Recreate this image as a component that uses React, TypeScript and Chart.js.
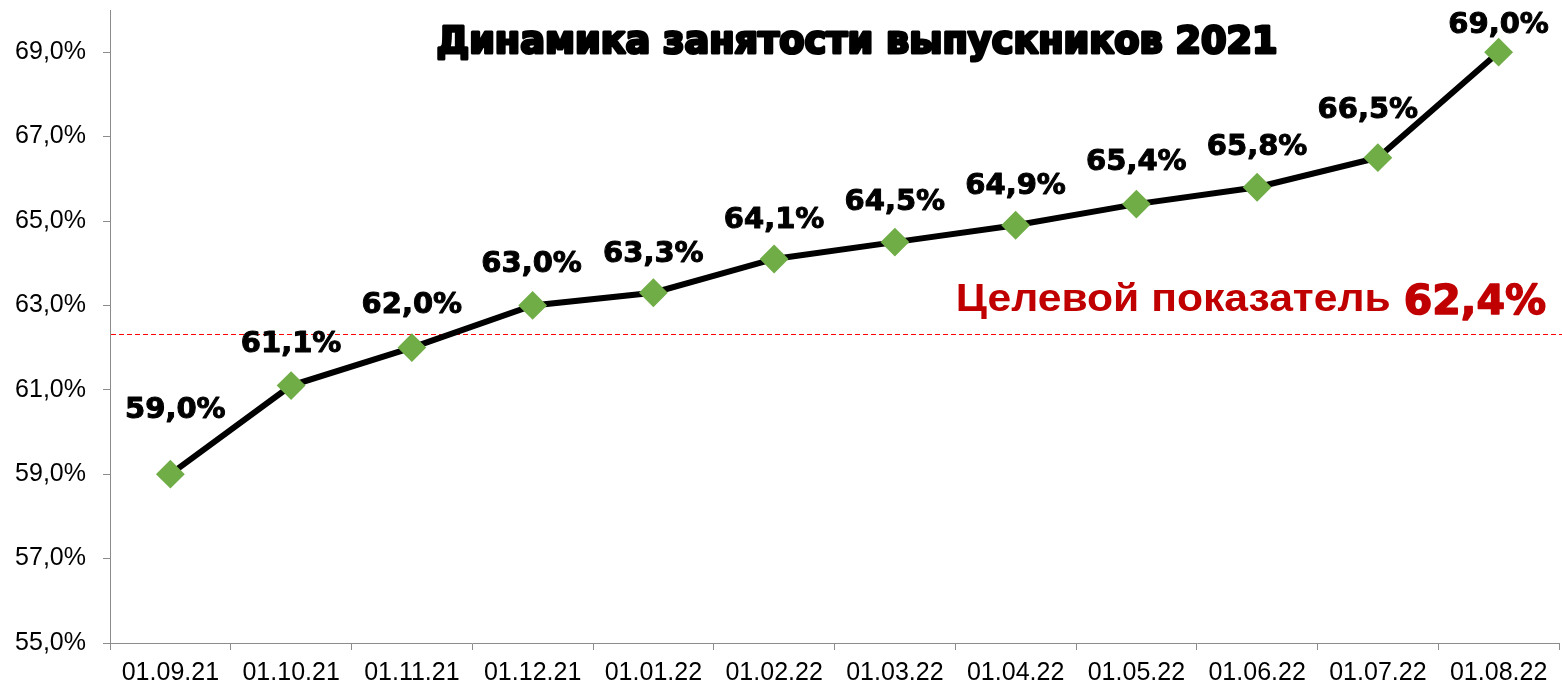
import React, { useEffect, useRef } from 'react';
import { Chart, registerables } from 'chart.js';

Chart.register(...registerables);

// ---- data ----
const categories = [
  '01.09.21', '01.10.21', '01.11.21', '01.12.21', '01.01.22', '01.02.22',
  '01.03.22', '01.04.22', '01.05.22', '01.06.22', '01.07.22', '01.08.22',
];
const employmentValues = [59.0, 61.1, 62.0, 63.0, 63.3, 64.1, 64.5, 64.9, 65.4, 65.8, 66.5, 69.0];
const yTickValues = [55, 57, 59, 61, 63, 65, 67, 69];
const yMin = 55;
const yMax = 70;
const targetLineValue = 62.32;
const targetLabelValue = 62.4;
const titleText = 'Динамика занятости выпускников 2021';
const targetText = 'Целевой показатель';

const fmt = (v: number) => v.toFixed(1).replace('.', ',') + '%';

// label placement (pixels relative to each point)
const labelDx = [5, 0, 0, -1, 0, 0, 0, 0, 0, 0, -10, 0];
const labelDy = [-56, -34, -35, -33, -31, -31, -32, -31, -34, -32, -40, -19];

const overlayPlugin = {
  id: 'overlay',
  beforeDatasetsDraw(chart: any) {
    const { ctx, chartArea, scales } = chart;
    const y = Math.round(scales.y.getPixelForValue(targetLineValue)) + 0.5;
    ctx.save();
    ctx.strokeStyle = '#FF0000';
    ctx.lineWidth = 1;
    ctx.setLineDash([5, 3]);
    ctx.beginPath();
    ctx.moveTo(chartArea.left + 1, y);
    ctx.lineTo(chart.width, y);
    ctx.stroke();
    ctx.restore();
  },
  afterDatasetsDraw(chart: any) {
    const { ctx, chartArea, scales } = chart;
    ctx.save();
    // data labels
    const meta = chart.getDatasetMeta(0);
    ctx.font = 'bold 29px "DejaVu Sans"';
    ctx.textAlign = 'center';
    ctx.textBaseline = 'alphabetic';
    ctx.fillStyle = '#000000';
    ctx.strokeStyle = '#000000';
    ctx.lineWidth = 1;
    ctx.lineJoin = 'round';
    meta.data.forEach((pt: any, i: number) => {
      const s = fmt(employmentValues[i]);
      const x = pt.x + labelDx[i];
      const y = pt.y + labelDy[i];
      ctx.strokeText(s, x, y);
      ctx.fillText(s, x, y);
    });

    // title
    ctx.font = 'bold 38px "DejaVu Sans"';
    const tw = ctx.measureText(titleText).width;
    const targetW = 841;
    const cx = 857;
    ctx.save();
    ctx.translate(cx, 53);
    ctx.scale(targetW / tw, 1);
    ctx.textAlign = 'center';
    ctx.lineWidth = 3;
    ctx.strokeStyle = '#000';
    ctx.lineJoin = 'round';
    ctx.strokeText(titleText, 0, 0);
    ctx.fillText(titleText, 0, 0);
    ctx.restore();

    // target label
    const ty = scales.y.getPixelForValue(targetLineValue) - 20;
    const rightX = chartArea.right - 13;
    ctx.fillStyle = '#C00000';
    ctx.strokeStyle = '#C00000';
    ctx.textAlign = 'right';
    ctx.font = 'bold 41px "DejaVu Sans"';
    const valStr = fmt(targetLabelValue);
    ctx.lineWidth = 1.5;
    ctx.strokeText(valStr, rightX, ty);
    ctx.fillText(valStr, rightX, ty);
    const vw = ctx.measureText(valStr).width;
    ctx.font = 'bold 38px "Liberation Sans"';
    const lw = ctx.measureText(targetText).width;
    const wantW = 435;
    ctx.save();
    ctx.translate(rightX - vw - 13, ty - 3);
    ctx.scale(wantW / lw, 1);
    ctx.fillText(targetText, 0, 0);
    ctx.restore();
    ctx.restore();
  },
};

export default function App() {
  const canvasRef = useRef<HTMLCanvasElement | null>(null);

  useEffect(() => {
    const canvas = canvasRef.current;
    if (!canvas) return;
    const chart = new Chart(canvas, {
      type: 'line',
      data: {
        labels: categories,
        datasets: [
          {
            data: employmentValues,
            borderColor: '#000000',
            borderWidth: 6,
            pointStyle: 'rectRot',
            pointRadius: 13,
            pointHoverRadius: 13,
            pointBackgroundColor: '#70AD47',
            pointBorderColor: '#70AD47',
            pointBorderWidth: 2,
            tension: 0,
            fill: false,
            clip: false,
          },
        ],
      },
      options: {
        animation: false,
        responsive: true,
        maintainAspectRatio: false,
        layout: { autoPadding: false, padding: { top: 10, right: 3, left: 0, bottom: 0 } },
        plugins: {
          legend: { display: false },
          title: { display: false },
          tooltip: { enabled: false },
        },
        scales: {
          x: {
            type: 'category',
            offset: true,
            grid: {
              offset: true,
              drawOnChartArea: false,
              drawTicks: true,
              tickLength: 7,
              color: '#8C8C8C',
            },
            border: { color: '#8C8C8C', width: 1 },
            ticks: {
              color: '#000000',
              font: { family: '"Liberation Sans", Arial', size: 25 },
              padding: 8,
              maxRotation: 0,
              autoSkip: false,
            },
            afterFit(scale: any) {
              scale.height = 45;
              scale.paddingLeft = 0;
              scale.paddingRight = 0;
            },
          },
          y: {
            min: yMin,
            max: yMax,
            grid: {
              drawOnChartArea: false,
              drawTicks: true,
              tickLength: 7,
              color: '#8C8C8C',
            },
            border: { color: '#8C8C8C', width: 1 },
            ticks: {
              color: '#000000',
              font: { family: '"Liberation Sans", Arial', size: 25 },
              padding: 17,
              callback: (v: any) => fmt(Number(v)),
            },
            afterBuildTicks(scale: any) {
              scale.ticks = yTickValues.map((v) => ({ value: v }));
            },
            afterFit(scale: any) {
              scale.width = 110;
              scale.paddingTop = 0;
              scale.paddingBottom = 0;
            },
          },
        },
      },
      plugins: [overlayPlugin],
    });
    return () => chart.destroy();
  }, []);

  return (
    <div style={{ position: 'fixed', left: 0, top: 0, width: 1562, height: 688, background: '#fff' }}>
      <canvas ref={canvasRef} />
    </div>
  );
}
